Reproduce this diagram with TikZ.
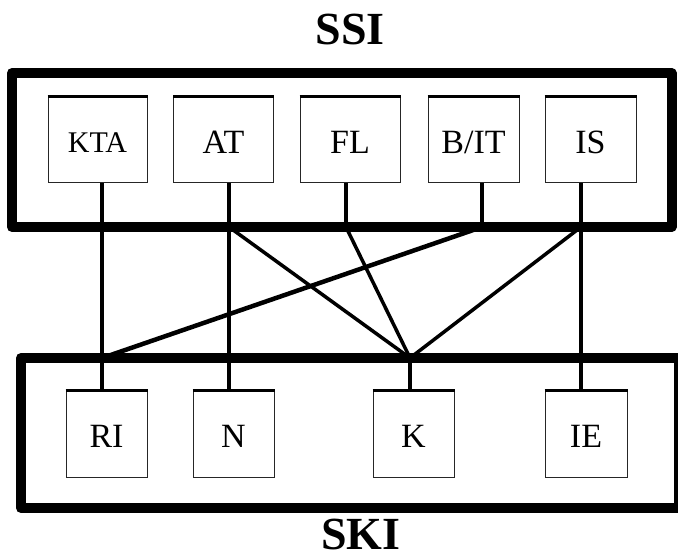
\documentclass[tikz,border=0pt]{standalone}
\usepackage{fontspec}
\setmainfont{Liberation Serif}
\begin{document}
\begin{tikzpicture}[x=1pt,y=-1pt,
  group/.style={draw=black,line width=10pt,line join=round,inner sep=0pt},
  unit/.style={draw=black!85,line width=1pt,inner sep=0pt,minimum height=86pt,
    text depth=0pt,align=center},
  topunit/.style={unit,font=\fontsize{34}{34}\selectfont,text height=28pt},
  botunit/.style={unit,font=\fontsize{34}{34}\selectfont,text height=26pt},
  lid/.style={line width=3pt,line cap=butt},
  title/.style={font=\fontsize{46}{46}\selectfont\bfseries,inner sep=0pt,
    text depth=0pt},
  link/.style={line width=3.5pt},
  heavylink/.style={line width=4.5pt}]

% page
\useasboundingbox (0,0) rectangle (678,559);
\fill[white] (0,0) rectangle (678,559);

% titles
\node[title,text height=32pt] (ssi) at (350,29) {SSI};
\node[title,text height=33pt] (ski) at (361,532.5) {SKI};

% upper group
\node[group,minimum width=659.5pt,minimum height=154pt] (ssibox) at (341.75,150) {};
\node[topunit,minimum width=99pt,font=\fontsize{30}{30}\selectfont,text height=26pt] (kta) at (97.5,140) {KTA};
\node[topunit,minimum width=100pt] (at) at (223.5,140) {AT};
\node[topunit,minimum width=100pt] (fl) at (350,140) {FL};
\node[topunit,minimum width=91pt] (bit) at (473.5,140) {B/IT};
\node[topunit,minimum width=91pt] (is) at (590.5,140) {IS};

% lower group (runs off the right edge)
\node[group,minimum width=658pt,minimum height=150pt] (skibox) at (350,433) {};
\node[botunit,minimum width=81pt] (ri) at (106.5,434) {RI};
\node[botunit,minimum width=81pt] (n) at (233.5,434) {N};
\node[botunit,minimum width=81pt] (k) at (413.5,434) {K};
\node[botunit,minimum width=82pt] (ie) at (586,434) {IE};

% heavier top edge on every unit box
\foreach \u in {kta,at,fl,bit,is,ri,n,k,ie}
  \draw[lid] (\u.north west) -- (\u.north east);

% junctions on the group borders
\coordinate (ta) at (102,227);
\coordinate (tb) at (229,227);
\coordinate (tc) at (346,227);
\coordinate (td) at (482,227);
\coordinate (te) at (581,227);
\coordinate (ba) at (102,358);
\coordinate (bc) at (410,358);

% straight links
\draw[link] (kta.south -| ta) -- (ri.north -| ta);
\draw[link] (at.south -| tb) -- (n.north -| tb);
\draw[link] (fl.south -| tc) -- (tc);
\draw[link] (bit.south -| td) -- (td);
\draw[link] (is.south -| te) -- (ie.north -| te);
\draw[link] (bc) -- (k.north -| bc);

% crossing links
\draw[link] (tb) -- (bc);
\draw[link] (tc) -- (bc);
\draw[link] (te) -- (bc);
\draw[heavylink] (td) -- (ba);
\end{tikzpicture}
\end{document}
